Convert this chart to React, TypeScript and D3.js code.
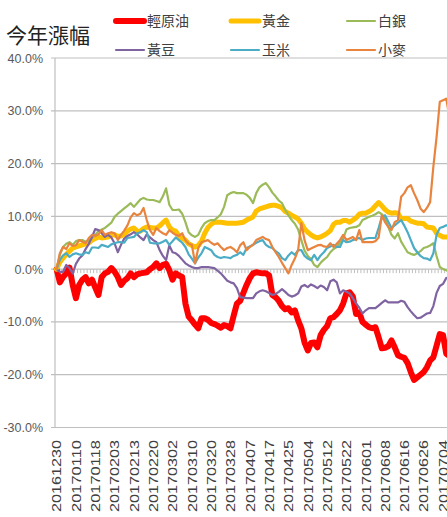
import React, { useEffect, useRef } from "react"
import * as d3 from "d3"

// one label every 6 trading days
const tickLabels = [
  "20161230", "20170110", "20170118", "20170203", "20170213", "20170220",
  "20170302", "20170310", "20170320", "20170328", "20170407", "20170417",
  "20170425", "20170504", "20170512", "20170522", "20170601", "20170608",
  "20170616", "20170626", "20170704",
]
const tickEvery = 6

const yTicks = [40, 30, 20, 10, 0, -10, -20, -30]

const legendNames = ["輕原油", "黃金", "白銀", "黃豆", "玉米", "小麥"]

// % change since 20161230
const crudeOil = [
  0, -2.5, -1.5, -0.8, 0.3, -3, -5.5, -3, -2, -1.5,
  -2.7, -2, -3.5, -4.9, -1.5, -0.8, -0.5, 0.2, -0.5, -1.5,
  -3, -2.2, -1.7, -0.8, -1.5, -1, -0.8, -0.7, -0.6, 0,
  0.4, 1.1, 0.2, 0.8, 1, -0.2, -2, -0.8, -1.2, -1.5,
  -6.5, -9, -9.7, -10.5, -11.2, -9.3, -9.3, -9.6, -10.2, -10.4,
  -10.7, -11.1, -10.6, -10.8, -11.2, -8.8, -6.5, -6, -4.5, -3,
  -1.7, -0.8, -0.6, -0.7, -0.8, -0.8, -1.2, -4.9, -5.3, -6,
  -7, -7.6, -7.4, -8.2, -7.8, -9.7, -11.2, -13.9, -15.4, -14,
  -13.9, -14.8, -12.5, -11.5, -10.8, -9.3, -9.1, -8.5, -7.8, -6.5,
  -4.6, -4.4, -5.2, -8.5, -8.2, -10, -10.5, -11, -11.2, -11,
  -12.9, -15, -14.9, -14.6, -13.5, -14.8, -16.3, -16.6, -16.8, -17.8,
  -19.5, -21, -20.5, -20, -19.5, -18.6, -17.3, -16.7, -14.5, -12.3,
  -12.5, -16, -16.5,
]
const gold = [
  0, 1.3, 2.1, 2.8, 3.4, 4, 4.2, 4.4, 4.6, 4.8,
  5, 5.5, 5.8, 6.1, 5.9, 6, 6.1, 6.4, 6.5, 6.2,
  6.3, 6.6, 7.2, 7.6, 7.8, 7.2, 7.2, 7.7, 8, 7.9,
  7.8, 7.8, 8.2, 8.8, 9.3, 8, 7.4, 7.2, 6.3, 5.8,
  5.5, 4.8, 4.5, 4.2, 4.5, 5.3, 6.8, 7.9, 8.5, 8.9,
  8.9, 8.9, 8.8, 8.7, 8.7, 8.7, 8.7, 8.8, 8.9, 9.3,
  9.6, 9.9, 11, 11.4, 11.6, 11.8, 12, 12.1, 12.1, 11.9,
  11.6, 10.9, 10.6, 10.2, 9.9, 9.5, 8.7, 7.6, 7, 6.5,
  6.1, 5.9, 6.1, 6.4, 6.8, 7.3, 8.5, 8.9, 8.9, 9.2,
  9.2, 8.9, 9.3, 9.7, 10.4, 10.6, 10.6, 10.9, 11.3, 12,
  12.6, 12, 11.3, 10.8, 10.6, 10.7, 10.6, 9.5, 9.6, 9.6,
  9.1, 8.9, 8.7, 8.7, 8.6, 8, 7.9, 7.8, 6.8, 6.4,
  6.1, 6.1, 6,
]
const silver = [
  0, 2.7, 4.2, 4.8, 5.1, 4.6, 5.3, 5.5, 5.5, 5.2,
  5.4, 5.9, 6.5, 7.2, 7.5, 7.8, 8.3, 8.8, 9.9, 10.5,
  11, 11.5, 12, 12.5, 11.8, 12.5, 13.2, 13.5, 13.2, 13.1,
  13.1, 12.9, 12.7, 13.8, 15.3, 12.2, 11.2, 11.2, 11.3, 10.5,
  8.9, 7, 6.4, 6.1, 6.5, 7.8, 8.7, 9.1, 9.3, 9.3,
  9.8, 10.4, 11.8, 14, 14.4, 14.6, 14.4, 14.4, 14.4, 14.1,
  13.5, 12.5, 14.4, 15.5, 16, 16.3, 15.5, 14.5, 13.8, 13,
  12.5, 11.2, 10.2, 9.3, 8.6, 7.5, 5.5, 3.5, 2.5, 1.9,
  0.8, 0.4, 1.2, 1.8, 2.3, 3.2, 3.8, 4.2, 5, 5.8,
  7.5, 7.8, 7.9, 8, 8.3, 9.3, 9.6, 9.9, 10.1, 10.4,
  10.8, 10.4, 9.6, 8, 6.5, 5.8, 6.8, 5.2, 4.2, 3.2,
  2.9, 2.7, 3, 3.4, 4, 4.2, 4.5, 4.9, 2.5, 0.4,
  0, -0.2, -0.5,
]
const soybean = [
  0, -0.5, -0.5, 0.8, 0.2, -0.8, 1, 2, 2.6, 3.8,
  4.8, 6.1, 7.6, 7.4, 6.8, 6.1, 6.5, 6, 4.9, 3.2,
  4.6, 5.8, 6.3, 6.6, 7, 6.6, 6, 5.5, 6.6, 6,
  5.5, 5.1, 3.6, 2.5, 1.7, 4.5, 3.2, 3, 2.5, 1.8,
  1.1, 0.7, 0.4, 0.2, 0.2, 0.4, 0.4, 0.4, 0.3, 0.2,
  -0.3, -0.8, -1.5, -2.2, -2.5, -2.7, -3.6, -5.3, -5.4, -5.5,
  -5.5, -5.5, -4.6, -4.2, -4, -4.2, -4.5, -4.9, -4.7, -4.3,
  -3.8, -4.3, -4.9, -5.2, -5, -4.6, -3.3, -3, -3.4, -2.9,
  -3.2, -3.6, -3.1, -3.4, -4, -2.3, -2, -2.5, -4.6, -4,
  -4.3, -4.6, -5.5, -6.5, -7.3, -8.4, -7.8, -7.4, -7.4, -7.4,
  -6.9, -6.4, -5.9, -6.3, -6.3, -6.3, -6.3, -6, -6.2, -7.2,
  -8, -8.7, -9.3, -9.2, -8.8, -8.4, -8.3, -7, -4.5, -3.2,
  -2.8, -1.7, -1.5,
]
const corn = [
  0, 1.7, 2.6, 3, 2.3, 2.8, 3, 2.8, 2.7, 3.2,
  3, 4.1, 4.1, 4, 4.6, 4.4, 4.2, 4.7, 4.9, 5.1,
  5.1, 5, 5.9, 6, 6.1, 6.8, 7, 7.4, 7, 5,
  4.9, 4.9, 4.9, 5.2, 5.5, 4.6, 5.3, 6, 5.5, 5,
  4.2, 2.8, 2, 1.1, 2.2, 3, 4.2, 3.9, 3.6, 2.7,
  2.3, 2.1, 2.3, 2.2, 2.1, 2.5, 2.7, 3.2, 2.7, 4,
  4.3, 4.6, 5, 5.3, 5.5, 4.6, 4.2, 4, 3.4, 3,
  2.1, 1.7, 2.6, 3.2, 2.7, 3.6, 3.6, 2.5, 2, 1.7,
  2.7, 1.7, 2.6, 3.2, 4, 4.3, 4.6, 4.2, 4.2, 5.5,
  5.1, 5.2, 5.5, 5.7, 5.9, 5.5, 5.8, 5.9, 5.9, 5.9,
  7.8, 9.9, 10.2, 9, 7.8, 8.3, 8.8, 9.3, 8.2, 7,
  5.5, 4, 3.2, 2.5, 2.1, 2, 1.7, 3, 6.5, 7.8,
  8, 8.3, 8.3,
]
const wheat = [
  0, 3, 4.2, 3.8, 4.9, 4.4, 4.5, 5.5, 5.2, 4.9,
  5.9, 6.5, 6.3, 6.6, 7.4, 6.5, 6.8, 7, 6.8, 5.5,
  6.5, 7.3, 8.3, 9.8, 10.6, 10.2, 10.5, 11.6, 9.3, 7.4,
  6.5, 7.8, 7.2, 6.8, 6.5, 7.4, 6.9, 6.5, 6.3, 6.8,
  5.5, 4.8, 4.6, 1.1, 4, 5.1, 5.3, 5.5, 5, 4.6,
  4.9, 4.2, 3.6, 4, 4.2, 3.8, 3.2, 4.5, 5.1, 3.6,
  4.2, 4.6, 5.5, 5.8, 6.1, 5.7, 5.5, 4.2, 3.2, 2.3,
  1.2, 0.2, -0.8, 0.8, 2, 3.6, 8.7, 5.5, 3.6, 3.9,
  4.2, 4.5, 4.6, 4.3, 4.2, 4.9, 4.2, 4.8, 5.5, 6.5,
  5.5, 5.8, 6.1, 5.5, 7.4, 5.1, 5.1, 5.1, 5.1, 5.3,
  6, 10.2, 8.9, 8, 7.4, 8.9, 9.3, 13.7, 14.4, 15.5,
  15.9, 14.4, 13.1, 11.5, 10.8, 11.6, 12.7, 19.4, 25, 31.7,
  32, 32.3, 28.8,
]

const series = [
  { name: legendNames[0], values: crudeOil, color: "#ff0000", width: 6 },
  { name: legendNames[1], values: gold, color: "#ffc000", width: 5 },
  { name: legendNames[2], values: silver, color: "#9bbb59", width: 2.2 },
  { name: legendNames[3], values: soybean, color: "#8064a2", width: 2.2 },
  { name: legendNames[4], values: corn, color: "#4bacc6", width: 2.2 },
  { name: legendNames[5], values: wheat, color: "#e8843e", width: 2.2 },
]

const W = 447
const H = 517

export default function App() {
  const ref = useRef<SVGSVGElement>(null)

  useEffect(() => {
    const svg = d3.select(ref.current)
    svg.selectAll("*").remove()

    const left = 55
    const step = 3.22
    const n = crudeOil.length
    const x = d3.scaleLinear().domain([0, n]).range([left, left + step * n])
    const y = d3.scaleLinear().domain([-30, 40]).range([427.5, 58])
    const grid = "#bfbfbf"
    const cjk = "'Noto Sans CJK TC', 'Noto Sans CJK SC', sans-serif"
    const latin = "'Liberation Sans', Arial, sans-serif"

    // gridlines + outward ticks
    svg.append("g")
      .selectAll("line")
      .data(yTicks.filter(t => t !== 0))
      .enter()
      .append("line")
      .attr("x1", left - 4)
      .attr("x2", W)
      .attr("y1", d => y(d))
      .attr("y2", d => y(d))
      .attr("stroke", grid)
      .attr("stroke-width", 1.2)

    svg.append("line")
      .attr("x1", left).attr("x2", left)
      .attr("y1", y(40)).attr("y2", y(-30))
      .attr("stroke", grid).attr("stroke-width", 1.2)

    // category axis sits on 0%
    svg.append("line")
      .attr("x1", left - 4).attr("x2", W)
      .attr("y1", y(0)).attr("y2", y(0))
      .attr("stroke", grid).attr("stroke-width", 1.2)
    svg.append("g")
      .selectAll("line")
      .data(d3.range(n + 1))
      .enter()
      .append("line")
      .attr("x1", d => x(d)).attr("x2", d => x(d))
      .attr("y1", y(0)).attr("y2", y(0) + 4)
      .attr("stroke", grid)
      .attr("stroke-width", 1)

    svg.append("g")
      .selectAll("text")
      .data(yTicks)
      .enter()
      .append("text")
      .attr("x", 43)
      .attr("y", d => y(d) + 4.5)
      .attr("text-anchor", "end")
      .attr("font-family", latin)
      .attr("font-size", 12.5)
      .attr("fill", "#595959")
      .text(d => d.toFixed(1) + "%")

    svg.append("g")
      .selectAll("text")
      .data(tickLabels)
      .enter()
      .append("text")
      .attr("transform", (d, i) => `translate(${x(i * tickEvery + 0.5) + 4.8},440) rotate(-90)`)
      .attr("text-anchor", "end")
      .attr("font-family", latin)
      .attr("font-size", 13.5)
      .attr("textLength", 72)
      .attr("lengthAdjust", "spacingAndGlyphs")
      .attr("fill", "#404040")
      .text(d => d)

    const line = d3.line<number>()
      .x((d, i) => x(i + 0.5))
      .y(d => y(d))

    series.forEach(s => {
      svg.append("path")
        .datum(s.values)
        .attr("d", line)
        .attr("fill", "none")
        .attr("stroke", s.color)
        .attr("stroke-width", s.width)
        .attr("stroke-linejoin", "round")
        .attr("stroke-linecap", "round")
    })

    svg.append("text")
      .attr("x", 6)
      .attr("y", 43)
      .attr("font-family", cjk)
      .attr("font-size", 21)
      .attr("fill", "#222")
      .text("今年漲幅")

    // legend, 3 per row
    const legendX = [114, 229, 345]
    const legendY = [21, 50]
    const lg = svg.append("g")
      .selectAll("g")
      .data(series)
      .enter()
      .append("g")
      .attr("transform", (d, i) => `translate(${legendX[i % 3]},${legendY[Math.floor(i / 3)]})`)
    lg.append("line")
      .attr("x1", 2).attr("x2", 30)
      .attr("stroke", d => d.color)
      .attr("stroke-width", d => d.width)
      .attr("stroke-linecap", "round")
    lg.append("text")
      .attr("x", 33)
      .attr("y", 5)
      .attr("font-family", cjk)
      .attr("font-size", 14)
      .attr("fill", "#404040")
      .text(d => d.name)
  }, [])

  return (
    <svg
      ref={ref}
      width={W}
      height={H}
      style={{ position: "absolute", left: 0, top: 0, background: "#fff" }}
    />
  )
}
